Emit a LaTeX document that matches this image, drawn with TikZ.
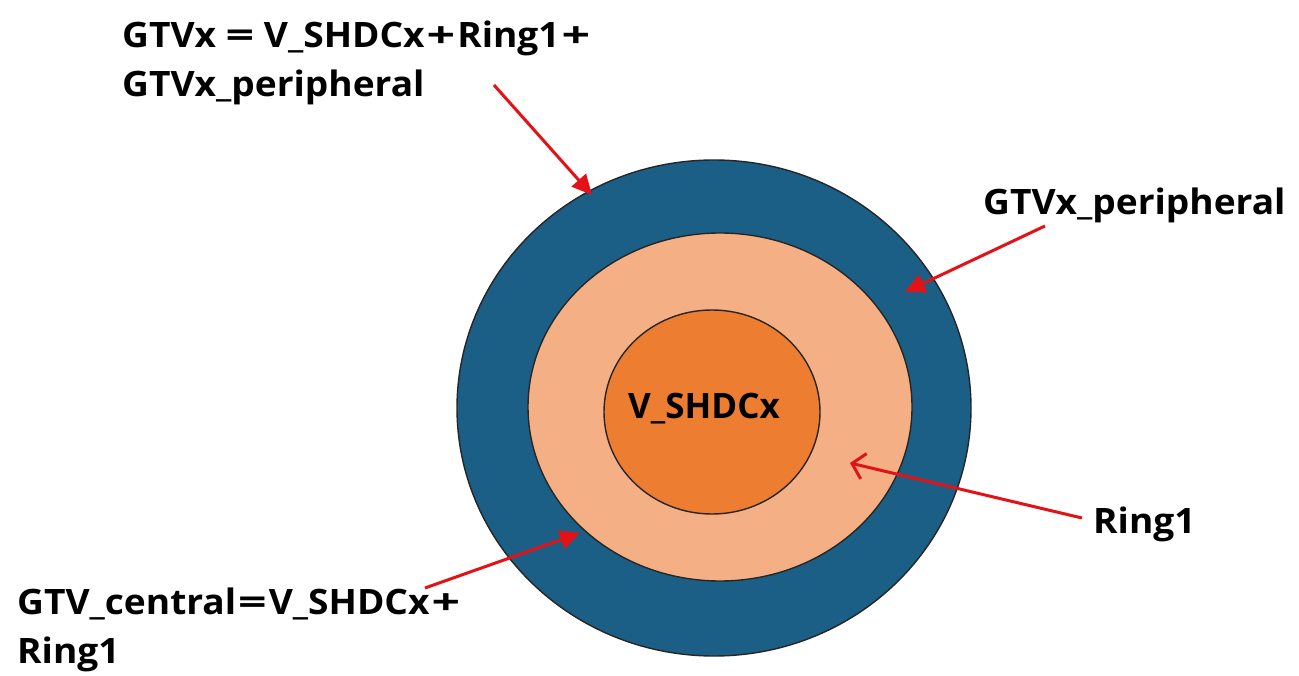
\documentclass[tikz,border=0pt]{standalone}
\usepackage{graphicx}
\usepackage{fontspec}
\setmainfont{Open Sans}
\newfontfamily\labfont{Open Sans}[FakeStretch=1.06]
\usetikzlibrary{shapes.geometric,arrows.meta}
\definecolor{outerblue}{RGB}{27,95,134}
\definecolor{peach}{RGB}{244,176,132}
\definecolor{coreorange}{RGB}{237,125,49}
\definecolor{arrowred}{RGB}{226,18,22}
\newcommand{\wpl}{\scalebox{1.35}[1]{+}}
\newcommand{\weq}{\scalebox{1.35}[1]{=}}
\tikzset{
  ring/.style={ellipse, draw=black!85, line width=1.4pt, inner sep=0pt},
  lbl/.style={font=\labfont\bfseries\fontsize{35}{49}\selectfont, text=black, inner sep=0pt, align=left},
  corelbl/.style={font=\bfseries\fontsize{35}{49}\selectfont, text=black, inner sep=0pt},
  ptr/.style={draw=arrowred, line width=3pt, -{Triangle[length=20pt,width=19pt]}},
  ptropen/.style={draw=arrowred, line width=3pt, -{Straight Barb[length=12pt,width=26pt,line width=3pt]}}
}
\begin{document}
\begin{tikzpicture}[x=1pt,y=-1pt]
\useasboundingbox (0,0) rectangle (1299,676);
\fill[white] (0,0) rectangle (1299,676);
% rings
\node[ring, fill=outerblue, minimum width=514pt, minimum height=496pt] (outer) at (714,408) {};
\node[ring, fill=peach, minimum width=384pt, minimum height=348pt] (middle) at (720,407) {};
\node[ring, fill=coreorange, minimum width=216pt, minimum height=204pt] (core) at (712,412) {};
\node[corelbl, anchor=base] (coretxt) at (704,418) {V\_SHDCx};
% labels
\node[lbl, anchor=base west] (gtvx) at (122,97) {GTVx \weq{} V\_SHDCx\kern2pt\wpl\kern2pt Ring1\kern2pt\wpl\\GTVx\_peripheral};
\node[lbl, anchor=base west] (periph) at (983,215) {GTVx\_peripheral};
\node[lbl, anchor=base west] (ring1) at (1093,533) {Ring1};
\node[lbl, anchor=base west] (central) at (17,663) {GTV\_central\kern2pt\weq\kern2pt V\_SHDCx\kern2pt\wpl\\Ring1};
% arrow ends
\coordinate (a1s) at (494,85);
\coordinate (a1e) at (592,195);
\coordinate (a2s) at (1045,226);
\coordinate (a2e) at (905,292);
\coordinate (a3s) at (1082,518);
\coordinate (a3e) at (850,463);
\coordinate (a4s) at (425,588);
\coordinate (a4e) at (580,533);
\draw[ptr] (a1s) -- (a1e);
\draw[ptr] (a2s) -- (a2e);
\draw[ptropen] (a3s) -- (a3e);
\draw[ptr] (a4s) -- (a4e);
\end{tikzpicture}
\end{document}
